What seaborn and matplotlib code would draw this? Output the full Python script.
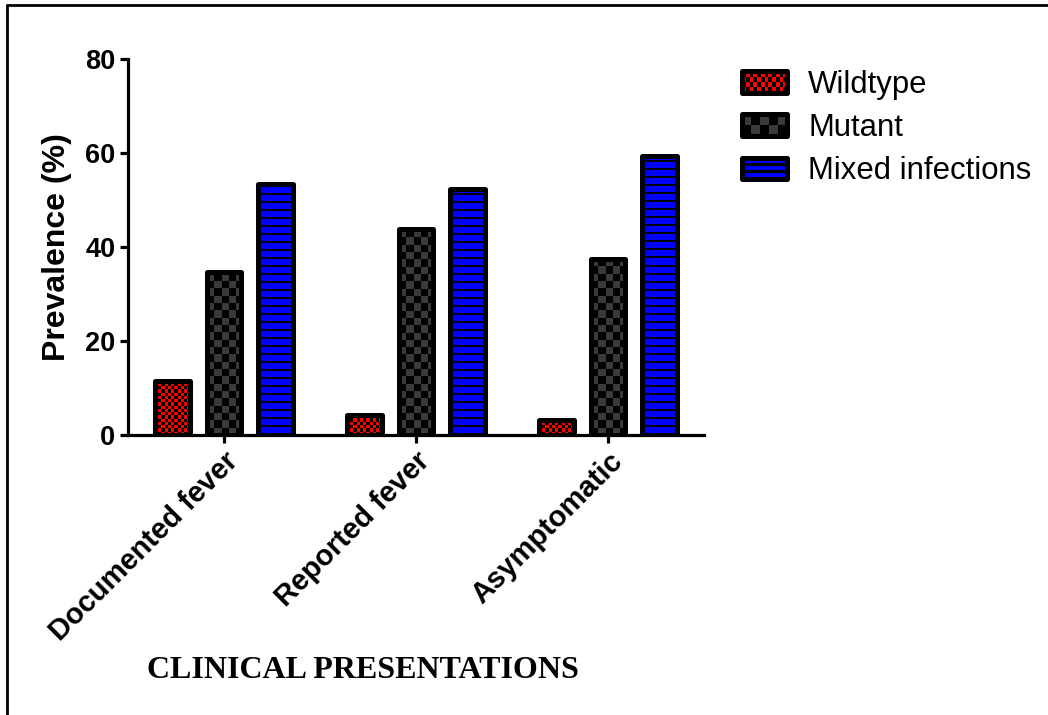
import numpy as np
import pandas as pd
import matplotlib
matplotlib.use("Agg")
import matplotlib.pyplot as plt
import seaborn as sns
from matplotlib.colors import ListedColormap
from matplotlib.patches import Rectangle
from matplotlib.lines import Line2D
from matplotlib.legend_handler import HandlerBase

# data
presentations = ["Documented fever", "Reported fever", "Asymptomatic"]
groups = ["Wildtype", "Mutant", "Mixed infections"]
wildtype = [11.5, 4.1, 3.1]
mutant = [34.7, 43.7, 37.3]
mixed = [53.3, 52.3, 59.4]
y_ticks = [0, 20, 40, 60, 80]

# texture per group: (kind, base colour, second colour, cell size in px)
textures = {
    "Wildtype": ("check", "#ff0000", "#000000", 3.2),
    "Mutant": ("check", "#000000", "#3a3a3a", 7.3),
    "Mixed infections": ("stripe", "#0000ff", "#000000", 8),
}

df = pd.DataFrame({
    "presentation": np.repeat(presentations, len(groups)),
    "group": groups * len(presentations),
    "value": np.column_stack([wildtype, mutant, mixed]).ravel(),
})

sns.set_theme(style="white")
plt.rcParams["font.family"] = ["Liberation Sans", "DejaVu Sans"]
plt.rcParams.update({"text.color": "black", "axes.labelcolor": "black",
                     "xtick.color": "black", "ytick.color": "black"})

fig = plt.figure(figsize=(10.48, 7.15), dpi=100)
ax = fig.add_axes([0.1221, 0.392, 0.5496, 0.5259])

sns.barplot(data=df, x="presentation", y="value", hue="group", order=presentations,
            hue_order=groups, palette=["#ff0000", "#000000", "#0000ff"], gap=0.32,
            legend=False, ax=ax, errorbar=None)

ax.set_xlim(-0.5, 2.5)
ax.set_ylim(0, 80)
ax.set_yticks(y_ticks)

# pixel size of one data unit (axes position and limits are fixed)
p0 = ax.transData.transform((0, 0))
p1 = ax.transData.transform((1, 1))
px_x, px_y = p1[0] - p0[0], p1[1] - p0[1]

for group, container in zip(groups, ax.containers):
    kind, c0, c1, cell = textures[group]
    cmap = ListedColormap([c0, c1])
    for bar in container:
        x0, w, h = bar.get_x(), bar.get_width(), bar.get_height()
        w_px, h_px = w * px_x, h * px_y
        if kind == "check":
            nx, ny = int(np.ceil(w_px / cell)), int(np.ceil(h_px / cell))
            ii, jj = np.indices((ny, nx))
            arr = (ii + jj) % 2
            ext_w, ext_h = nx * cell / px_x, ny * cell / px_y
        else:
            ny = int(np.ceil(h_px))
            rows = (np.arange(ny) % cell) < 2
            arr = rows.astype(int)[:, None] * np.ones((1, 2), dtype=int)
            ext_w, ext_h = w, ny / px_y
        im = ax.imshow(arr, cmap=cmap, vmin=0, vmax=1, origin="lower", aspect="auto",
                       interpolation="nearest", extent=[x0, x0 + ext_w, 0, ext_h],
                       zorder=2.5)
        im.set_clip_path(bar)
        bar.set_facecolor("none")
        bar.set_edgecolor("black")
        bar.set_linewidth(3.6)
        bar.set_joinstyle("round")
        bar.set_zorder(3)

ax.set_xlim(-0.5, 2.5)
ax.set_ylim(0, 80)

for side in ["top", "right"]:
    ax.spines[side].set_visible(False)
for side in ["left", "bottom"]:
    ax.spines[side].set_linewidth(2.3)
    ax.spines[side].set_color("black")
    ax.spines[side].set_zorder(4)

ax.tick_params(axis="both", direction="out", length=6, width=2.3, color="black",
               labelsize=19.5, pad=3, left=True, bottom=True)
for lab in ax.get_yticklabels():
    lab.set_fontweight("bold")
ax.set_xticks(range(len(presentations)))
ax.set_xticklabels(presentations, rotation=45, ha="right", va="top",
                   rotation_mode="anchor", fontsize=21, fontweight="bold")

ax.set_xlabel("")
ax.set_ylabel("Prevalence (%)", fontsize=23, fontweight="bold")
ax.yaxis.set_label_coords(-0.098, 0.5)

fig.text(363 / 1048, 1 - 670 / 715, "CLINICAL PRESENTATIONS", ha="center", va="center",
         fontsize=23, fontweight="bold", family=["Liberation Serif", "DejaVu Serif"])


class TextureHandler(HandlerBase):
    def __init__(self, kind, c0, c1, n):
        super().__init__()
        self.kind, self.c0, self.c1, self.n = kind, c0, c1, n

    def create_artists(self, legend, orig_handle, xdescent, ydescent, width, height,
                       fontsize, trans):
        x0, y0 = -xdescent, -ydescent
        arts = [Rectangle((x0, y0), width, height, facecolor=self.c0, edgecolor="none",
                          transform=trans)]
        if self.kind == "check":
            ncol, nrow = self.n
            cw, ch = width / ncol, height / nrow
            for i in range(nrow):
                for j in range(ncol):
                    if (i + j) % 2:
                        arts.append(Rectangle((x0 + j * cw, y0 + i * ch), cw, ch,
                                              facecolor=self.c1, edgecolor="none",
                                              transform=trans))
        else:
            for k in range(1, self.n + 1):
                yy = y0 + height * k / (self.n + 1)
                arts.append(Rectangle((x0, yy - height * 0.07), width, height * 0.14,
                                      facecolor=self.c1, edgecolor="none", transform=trans))
        arts.append(Rectangle((x0, y0), width, height, facecolor="none", edgecolor="black",
                              linewidth=3.6, joinstyle="round", transform=trans))
        return arts


handles = [Rectangle((0, 0), 1, 1) for _ in groups]
handler_map = {
    handles[0]: TextureHandler("check", "#ff0000", "#000000", (12, 4)),
    handles[1]: TextureHandler("check", "#000000", "#3a3a3a", (5, 2)),
    handles[2]: TextureHandler("stripe", "#0000ff", "#000000", 2),
}
fig.legend(handles, groups, handler_map=handler_map, loc="upper left",
           bbox_to_anchor=(742 / 1048, 1 - 70 / 715), frameon=False, fontsize=22.4,
           handlelength=1.45, handleheight=0.68, handletextpad=0.68, labelspacing=0.42,
           borderpad=0, borderaxespad=0)

# figure frame (top and left edges visible in the reference)
fig.add_artist(Line2D([7 / 1048, 7 / 1048], [0, 1 - 5 / 715], color="black", lw=2,
                      transform=fig.transFigure))
fig.add_artist(Line2D([7 / 1048, 1], [1 - 5 / 715, 1 - 5 / 715], color="black", lw=2,
                      transform=fig.transFigure))

fig.savefig("out.png", dpi=100)
plt.close(fig)
